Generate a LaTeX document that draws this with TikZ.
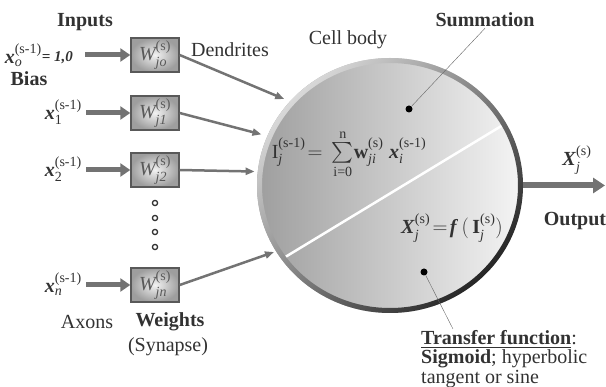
\documentclass[tikz,border=0pt]{standalone}
\usepackage{fontspec}
\setmainfont{Liberation Serif}
\usepackage{amsmath}
\usetikzlibrary{arrows.meta,shapes.geometric}

\definecolor{inkgray}{RGB}{50,50,50}

\tikzset{
  lbl/.style={text=inkgray, inner sep=1pt},
  wbox/.style={draw=black!65, line width=1.4pt, inner color=black!5, outer color=black!38,
    minimum width=48pt, minimum height=34pt, inner sep=0pt, text=black!65},
  inarrow/.style={line width=5pt, black!55, -{Triangle[length=10pt,width=13pt]}},
  dendrite/.style={line width=2.5pt, black!55, -{Triangle[length=9pt,width=7pt]}},
  outarrow/.style={line width=6pt, black!55, -{Triangle[length=12pt,width=15pt]}},
  pointer/.style={thin, black!60},
  spot/.style={circle, fill=black, inner sep=0pt, minimum size=7pt},
}

\begin{document}
\begin{tikzpicture}[x=1pt, y=-1pt, font=\fontsize{20}{21}\selectfont]
  \useasboundingbox (0,0) rectangle (606,387);

  % inputs (axons)
  \node[lbl] (inputs) at (85,22) {\textbf{Inputs}};
  \node[lbl, anchor=east, inner sep=0pt] (x0) at (73,55) {$\textbf{\textit{x}}^{\text{(s-1)}}_{\textit{o}}$\raisebox{2pt}{\bfseries\itshape\fontsize{15}{15}\selectfont= 1,0}};
  \node[lbl, inner sep=0pt] (bias) at (29,79) {\textbf{Bias}};
  \node[lbl, anchor=east] (x1) at (83,112) {$\textbf{\textit{x}}^{\text{(s-1)}}_{\text{1}}$};
  \node[lbl, anchor=east] (x2) at (83,169) {$\textbf{\textit{x}}^{\text{(s-1)}}_{\text{2}}$};
  \node[lbl, anchor=east] (xn) at (83,284) {$\textbf{\textit{x}}^{\text{(s-1)}}_{\textit{n}}$};

  % weights
  \node[wbox] (w0) at (155,55) {$\textit{W}^{\text{(s)}}_{\textit{jo}}$};
  \node[wbox] (w1) at (155,113) {$\textit{W}^{\text{(s)}}_{\textit{j1}}$};
  \node[wbox] (w2) at (155,170) {$\textit{W}^{\text{(s)}}_{\textit{j2}}$};
  \node[wbox] (wn) at (155,285) {$\textit{W}^{\text{(s)}}_{\textit{jn}}$};
  \foreach \y in {203,218,232,247}
    \draw[black!80, line width=1.3pt] (155,\y) circle (2.6pt);

  \draw[inarrow, shorten <=12pt] (x0.east |- w0.west) -- (w0.west);
  \draw[inarrow, shorten <=3pt] (x1.east |- w1.west) -- (w1.west);
  \draw[inarrow, shorten <=3pt] (x2.east |- w2.west) -- (w2.west);
  \draw[inarrow, shorten <=3pt] (xn.east |- wn.west) -- (wn.west);

  \node[lbl] (axons) at (87,322) {Axons};
  \node[lbl] (weights) at (170,322) {\textbf{Weights}};
  \node[lbl] (synapse) at (168,347) {(Synapse)};

  % cell body
  \node[ellipse, minimum width=266pt, minimum height=255pt, inner sep=0pt,
    left color=black!38, right color=black!4] (cell) at (390,185.5) {};
  \draw[white, line width=2.5pt] (282,259) -- (503,125);
  \shade[top color=black!15, bottom color=black!85, shading angle=45, even odd rule]
    (cell.center) ellipse [x radius=133pt, y radius=127.5pt]
    (cell.center) ellipse [x radius=128pt, y radius=122.5pt];

  \node[lbl] (dendr) at (230,50) {Dendrites};
  \node[lbl] (cbody) at (348,40) {Cell body};

  % dendrites
  \draw[dendrite, shorten >=6pt] (w0.east) -- (cell.140);
  \draw[dendrite, shorten >=6pt] (w1.east) -- (cell.158);
  \draw[dendrite, shorten >=3pt] (w2.east) -- (cell.174);
  \draw[dendrite, shorten >=2pt] (wn.east) -- (cell.210);

  % summation and transfer
  \node[lbl, inner sep=0pt] (isum) at (349,154) {$\text{I}^{\text{(s-1)}}_{\textit{j}}\!=\,\sum\limits_{\text{i=0}}^{\text{n}}\!\textbf{w}^{\text{(s)}}_{\textit{ji}}\;\textbf{\textit{x}}^{\text{(s-1)}}_{\textit{i}}$};
  \node[lbl] (fout) at (452,228) {$\textbf{\textit{X}}^{\text{(s)}}_{\textit{j}}\!=\!\textbf{\textit{f}}\,(\,\textbf{I}^{\text{(s)}}_{\textit{j}})$};

  \node[spot] (sumdot) at (409,109) {};
  \node[spot] (tfdot) at (424,272) {};
  \node[lbl] (summ) at (485,20) {\textbf{Summation}};
  \node[lbl, anchor=north west, align=left, font=\fontsize{20}{19.5}\selectfont] (tf) at (420,329)
    {\textbf{\underline{Transfer function}}:\\ \textbf{Sigmoid}; hyperbolic\\ tangent or sine};
  \draw[pointer] (sumdot) -- (summ.south);
  \draw[pointer] (tfdot) -- ([xshift=33pt]tf.north west);

  % output
  \coordinate (outend) at (605,185.5);
  \draw[outarrow] (cell.east) -- (outend);
  \node[lbl] (xout) at (577,160) {$\textbf{\textit{X}}^{\text{(s)}}_{\textit{j}}$};
  \node[lbl] (output) at (575,221) {\textbf{Output}};

\end{tikzpicture}
\end{document}
